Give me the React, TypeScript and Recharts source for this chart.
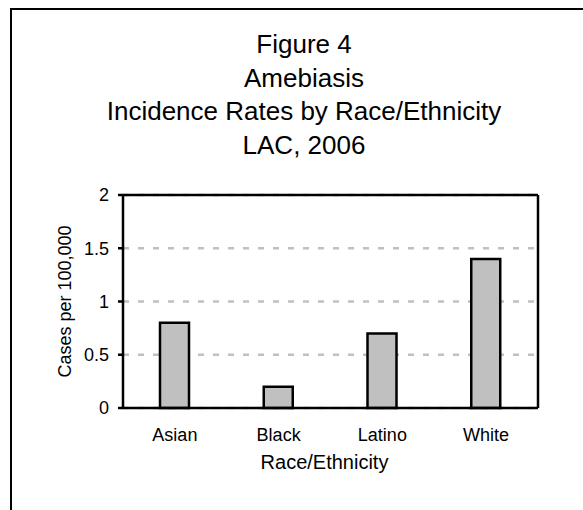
import React from 'react';
import { BarChart, Bar, XAxis, YAxis, CartesianGrid, Label } from 'recharts';

const titleLines = ['Figure 4', 'Amebiasis', 'Incidence Rates by Race/Ethnicity', 'LAC, 2006'];
const categories = ['Asian', 'Black', 'Latino', 'White'];
const rates = [0.8, 0.2, 0.7, 1.4];
const yTicks = [0, 0.5, 1, 1.5, 2];

const data = categories.map((name, i) => ({ name, rate: rates[i] }));

const FONT = '"Liberation Sans", Arial, sans-serif';
const AXIS_LINE = { stroke: '#000', strokeWidth: 2.5 };

export default function App() {
  return (
    <div style={{
      position: 'absolute',
      left: 0,
      top: 0,
      width: 583,
      height: 510,
      overflow: 'hidden',
      background: '#fff',
      fontFamily: FONT,
    }}>
      {/* outer frame, runs off the right and bottom edge */}
      <div style={{
        position: 'absolute',
        left: 10,
        top: 8,
        width: 700,
        height: 700,
        border: '2px solid #000',
      }} />
      <svg width={583} height={170} style={{ position: 'absolute', left: 0, top: 0 }}>
        {titleLines.map((line, i) => (
          <text key={line} x={304} y={53 + i * 33.5} textAnchor="middle" fontSize={26} fontFamily={FONT} fill="#000">
            {line}
          </text>
        ))}
      </svg>
      <div style={{ position: 'absolute', left: 0, top: 0 }}>
        <BarChart
          width={583}
          height={510}
          data={data}
          margin={{ top: 185, right: 35, bottom: 42, left: 63 }}
          barSize={29}
        >
          <CartesianGrid
            vertical={false}
            stroke="#c0c0c0"
            strokeWidth={2.5}
            strokeDasharray="6 9"
          />
          <XAxis
            dataKey="name"
            height={60}
            tickLine={false}
            tickSize={0}
            tickMargin={20}
            axisLine={AXIS_LINE}
            tick={{ fill: '#000', fontSize: 18, fontFamily: FONT }}
          >
            <Label
              content={({ viewBox }: any) => (
                <text x={viewBox.x + viewBox.width / 2 - 6} y={469} textAnchor="middle" fontSize={20} fontFamily={FONT} fill="#000">
                  Race/Ethnicity
                </text>
              )}
            />
          </XAxis>
          <XAxis
            xAxisId="t"
            dataKey="name"
            orientation="top"
            height={10}
            tick={false}
            tickLine={false}
            axisLine={AXIS_LINE}
          />
          <YAxis
            width={60}
            domain={[0, 2]}
            ticks={yTicks}
            interval={0}
            tickSize={5}
            tickMargin={9}
            tickLine={AXIS_LINE}
            axisLine={AXIS_LINE}
            tick={{ fill: '#000', fontSize: 18, fontFamily: FONT }}
          >
            <Label
              content={({ viewBox }: any) => {
                const cx = 65;
                const cy = viewBox.y + viewBox.height / 2;
                return (
                  <text
                    x={cx}
                    y={cy}
                    transform={`rotate(-90, ${cx}, ${cy})`}
                    textAnchor="middle"
                    dominantBaseline="central"
                    fontSize={18}
                    fontFamily={FONT}
                    fill="#000"
                  >
                    Cases per 100,000
                  </text>
                );
              }}
            />
          </YAxis>
          <YAxis
            yAxisId="r"
            orientation="right"
            width={10}
            domain={[0, 2]}
            tick={false}
            tickLine={false}
            axisLine={AXIS_LINE}
          />
          <Bar
            dataKey="rate"
            fill="#c0c0c0"
            stroke="#000"
            strokeWidth={2.5}
            isAnimationActive={false}
          />
        </BarChart>
      </div>
    </div>
  );
}
